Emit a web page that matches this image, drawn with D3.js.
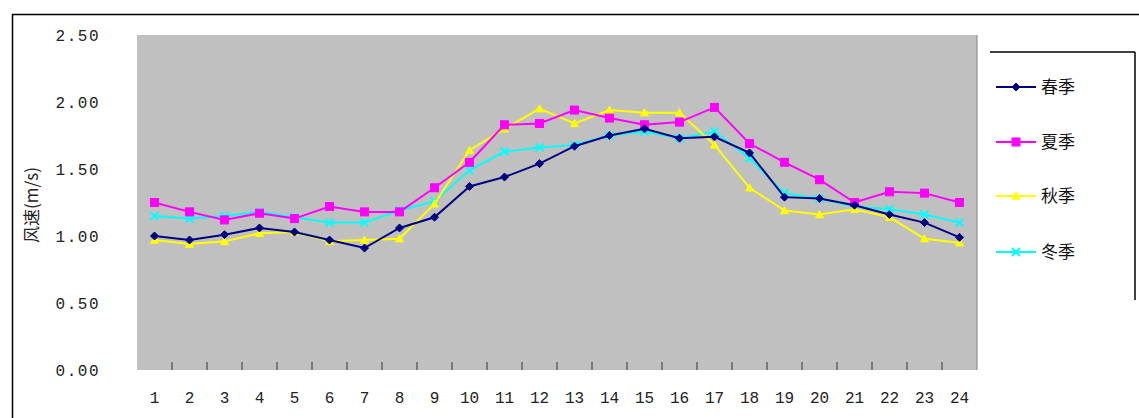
<!DOCTYPE html>
<html>
<head>
<meta charset="utf-8">
<script src="https://cdn.jsdelivr.net/npm/d3@7"></script>
<style>
  html, body { margin: 0; padding: 0; background: #fff; }
  svg { display: block; }
  text { font-family: "Liberation Mono", "Noto Sans CJK SC", monospace; }
  .cjk { font-family: "Noto Sans CJK SC", sans-serif; }
</style>
</head>
<body>
<svg id="chart" width="1139" height="418"></svg>
<script>
// Hours of the day (category axis)
const hours = d3.range(1, 25).map(String);

// Mean wind speed (m/s) by hour for each season
const spring = [1.00, 0.97, 1.01, 1.06, 1.03, 0.97, 0.91, 1.06, 1.14, 1.37, 1.44, 1.54,
                1.67, 1.75, 1.80, 1.73, 1.74, 1.62, 1.29, 1.28, 1.23, 1.16, 1.10, 0.99];
const summer = [1.25, 1.18, 1.12, 1.17, 1.13, 1.22, 1.18, 1.18, 1.36, 1.55, 1.83, 1.84,
                1.94, 1.88, 1.83, 1.85, 1.96, 1.69, 1.55, 1.42, 1.25, 1.33, 1.32, 1.25];
const autumn = [0.97, 0.94, 0.96, 1.02, 1.03, 0.96, 0.97, 0.98, 1.24, 1.64, 1.80, 1.95,
                1.84, 1.94, 1.92, 1.92, 1.68, 1.36, 1.19, 1.16, 1.20, 1.14, 0.98, 0.95];
const winter = [1.15, 1.13, 1.15, 1.18, 1.14, 1.10, 1.10, 1.19, 1.26, 1.49, 1.63, 1.66,
                1.68, 1.75, 1.78, 1.73, 1.78, 1.58, 1.32, 1.28, 1.22, 1.20, 1.16, 1.10];

const seriesNames = ["春季", "夏季", "秋季", "冬季"];
const yTicks = [0, 0.5, 1.0, 1.5, 2.0, 2.5];

const series = [
  { name: seriesNames[0], values: spring, color: "#000080", marker: "diamond" },
  { name: seriesNames[1], values: summer, color: "#FF00FF", marker: "square" },
  { name: seriesNames[2], values: autumn, color: "#FFFF00", marker: "triangle" },
  { name: seriesNames[3], values: winter, color: "#00FFFF", marker: "cross" }
];

const svg = d3.select("#chart");

// Chart area frame
svg.append("rect")
  .attr("x", 12.5).attr("y", 14.5)
  .attr("width", 1140).attr("height", 420)
  .attr("fill", "#fff").attr("stroke", "#000").attr("stroke-width", 1.5);

const plot = { left: 137, top: 35, right: 977, bottom: 370 };

const x = d3.scaleBand().domain(hours).range([plot.left, plot.right]);
const y = d3.scaleLinear().domain([0, 2.5]).range([plot.bottom, plot.top]);

// Plot area
svg.append("rect")
  .attr("x", plot.left).attr("y", plot.top)
  .attr("width", plot.right - plot.left).attr("height", plot.bottom - plot.top)
  .attr("fill", "#C0C0C0");

svg.append("line")
  .attr("x1", plot.right).attr("x2", plot.right)
  .attr("y1", plot.top).attr("y2", plot.bottom)
  .attr("stroke", "#808080").attr("stroke-width", 1);

// Y axis labels
const yAxis = d3.axisLeft(y).tickValues(yTicks).tickFormat(d3.format(".2f")).tickSize(0).tickPadding(37);
const gy = svg.append("g").attr("transform", `translate(${plot.left},0)`).call(yAxis);
gy.select(".domain").remove();
gy.selectAll("text").attr("font-size", 16).attr("fill", "#222")
  .attr("letter-spacing", 1.5)
  .style("font-family", "'Liberation Mono', monospace");

// X axis: labels at category centres, ticks on category boundaries inside the plot
const xAxis = d3.axisBottom(x).tickSize(0).tickPadding(22);
const gx = svg.append("g").attr("transform", `translate(0,${plot.bottom})`).call(xAxis);
gx.select(".domain").remove();
gx.selectAll("text").attr("font-size", 16).attr("fill", "#222")
  .style("font-family", "'Liberation Mono', monospace");

svg.append("g").selectAll("line")
  .data(hours.slice(1))
  .join("line")
  .attr("x1", d => x(d)).attr("x2", d => x(d))
  .attr("y1", plot.bottom - 8).attr("y2", plot.bottom)
  .attr("stroke", "#333").attr("stroke-width", 1);

// Y axis title
svg.append("text")
  .attr("class", "cjk")
  .attr("transform", `translate(38,205) rotate(-90)`)
  .attr("text-anchor", "middle")
  .attr("font-size", 17)
  .attr("fill", "#222")
  .text("风速(m/s)");

// Marker shapes
function drawMarker(g, type, color, cx, cy, s) {
  if (type === "diamond") {
    g.append("path").attr("d", `M${cx},${cy - s}L${cx + s},${cy}L${cx},${cy + s}L${cx - s},${cy}Z`)
      .attr("fill", color).attr("stroke", color);
  } else if (type === "square") {
    g.append("rect").attr("x", cx - s).attr("y", cy - s).attr("width", 2 * s).attr("height", 2 * s)
      .attr("fill", color).attr("stroke", color);
  } else if (type === "triangle") {
    g.append("path").attr("d", `M${cx},${cy - s}L${cx + s},${cy + s * 0.8}L${cx - s},${cy + s * 0.8}Z`)
      .attr("fill", color).attr("stroke", color);
  } else {
    g.append("path").attr("d", `M${cx - s},${cy - s}L${cx + s},${cy + s}M${cx - s},${cy + s}L${cx + s},${cy - s}`)
      .attr("fill", "none").attr("stroke", color).attr("stroke-width", 2);
  }
}

const line = d3.line()
  .x((d, i) => x(hours[i]) + x.bandwidth() / 2)
  .y(d => y(d));

// Draw from last to first so 春季 sits on top
series.slice().reverse().forEach(s => {
  const g = svg.append("g");
  g.append("path")
    .datum(s.values)
    .attr("d", line)
    .attr("fill", "none")
    .attr("stroke", s.color)
    .attr("stroke-width", 2);
  s.values.forEach((v, i) => {
    drawMarker(g, s.marker, s.color, x(hours[i]) + x.bandwidth() / 2, y(v), 4);
  });
});

// Legend
const lg = svg.append("g");
lg.append("line").attr("x1", 990).attr("x2", 1135).attr("y1", 52).attr("y2", 52)
  .attr("stroke", "#000").attr("stroke-width", 1.5);
lg.append("line").attr("x1", 1135).attr("x2", 1135).attr("y1", 52).attr("y2", 300)
  .attr("stroke", "#000").attr("stroke-width", 1.5);

const legendY = [87, 142, 196, 252];
series.forEach((s, i) => {
  const ly = legendY[i];
  const g = lg.append("g");
  g.append("line").attr("x1", 996).attr("x2", 1036).attr("y1", ly).attr("y2", ly)
    .attr("stroke", s.color).attr("stroke-width", 2);
  drawMarker(g, s.marker, s.color, 1016, ly, 4);
  g.append("text")
    .attr("class", "cjk")
    .attr("x", 1041).attr("y", ly + 6)
    .attr("font-size", 17).attr("fill", "#111")
    .text(s.name);
});
</script>
</body>
</html>
